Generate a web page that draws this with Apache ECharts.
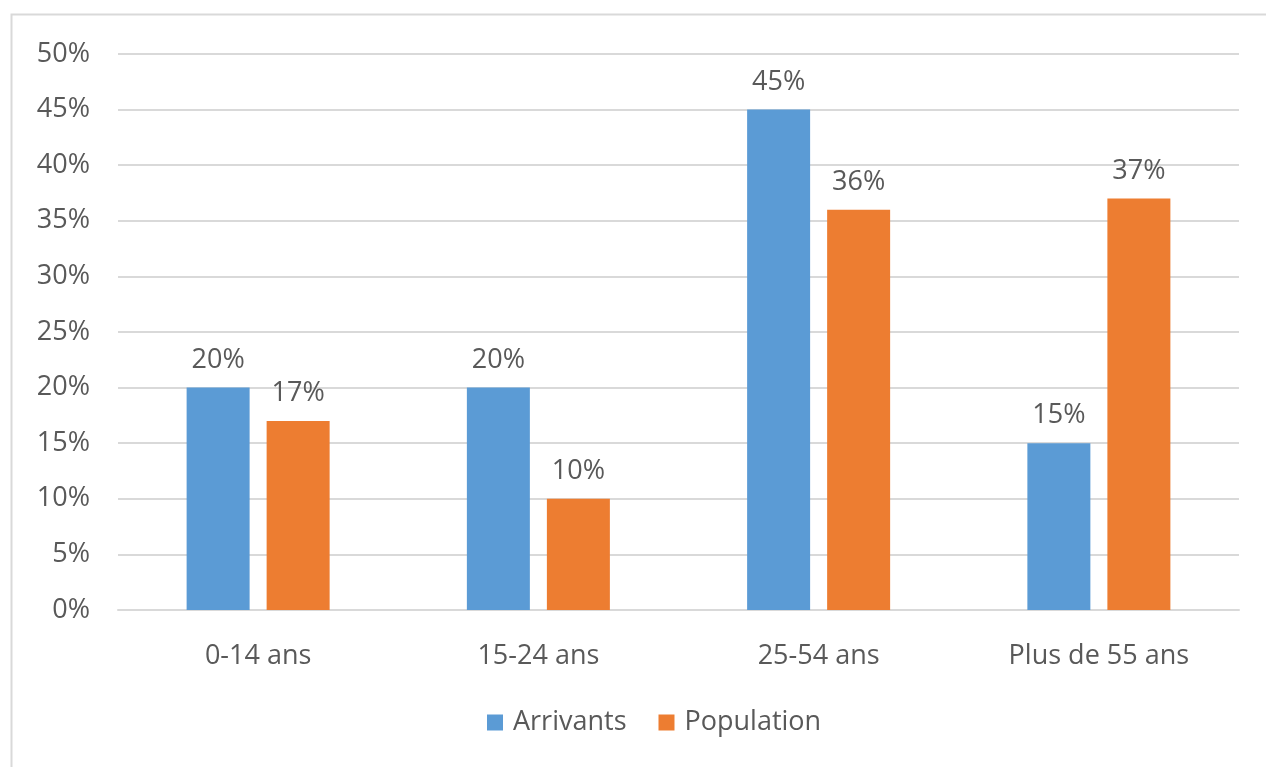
<!DOCTYPE html>
<html>
<head>
<meta charset="utf-8">
<script src="https://cdn.jsdelivr.net/npm/echarts@6/dist/echarts.min.js"></script>
<style>
  html, body { margin: 0; padding: 0; background: #fff; }
  #main { width: 1266px; height: 767px; }
</style>
</head>
<body>
<div id="main"></div>
<script>
// age groups and shares (%)
var categories = ["0-14 ans", "15-24 ans", "25-54 ans", "Plus de 55 ans"];
var arrivants = [20, 20, 45, 15];
var population = [17, 10, 36, 37];

var chart = echarts.init(document.getElementById("main"));

var labelStyle = {
  show: true,
  position: "top",
  distance: 14,
  formatter: "{c}%",
  color: "#595959",
  fontSize: 27,
  fontFamily: "Open Sans",
};

chart.setOption({
  animation: false,
  textStyle: { fontFamily: "Open Sans" },
  graphic: [
    {
      type: "rect",
      shape: { x: 11.5, y: 14.5, width: 1300, height: 800 },
      style: { fill: "none", stroke: "#d9d9d9", lineWidth: 2 },
      silent: true,
    },
  ],
  grid: { left: 118, right: 27, top: 54, bottom: 157 },
  legend: {
    bottom: 26,
    left: 482,
    itemWidth: 16,
    itemHeight: 16,
    itemGap: 32,
    icon: "rect",
    textStyle: {
      color: "#595959",
      fontSize: 27,
      fontFamily: "Open Sans",
      padding: [0, 0, 0, 5],
    },
    data: ["Arrivants", "Population"],
  },
  xAxis: {
    type: "category",
    data: categories,
    axisLine: { lineStyle: { color: "#d9d9d9", width: 2 } },
    axisTick: { show: false },
    axisLabel: { color: "#595959", fontSize: 27, margin: 33, fontFamily: "Open Sans" },
  },
  yAxis: {
    type: "value",
    min: 0,
    max: 50,
    interval: 5,
    axisLine: { show: false },
    axisTick: { show: false },
    axisLabel: {
      formatter: "{value}%",
      color: "#595959",
      fontSize: 27,
      margin: 28,
      fontFamily: "Open Sans",
    },
    splitLine: { lineStyle: { color: "#d9d9d9", width: 2 } },
  },
  series: [
    {
      name: "Arrivants",
      type: "bar",
      data: arrivants,
      barWidth: 63,
      barGap: "27%",
      itemStyle: { color: "#5b9bd5" },
      label: labelStyle,
    },
    {
      name: "Population",
      type: "bar",
      data: population,
      barWidth: 63,
      itemStyle: { color: "#ed7d31" },
      label: labelStyle,
    },
  ],
});
</script>
</body>
</html>
